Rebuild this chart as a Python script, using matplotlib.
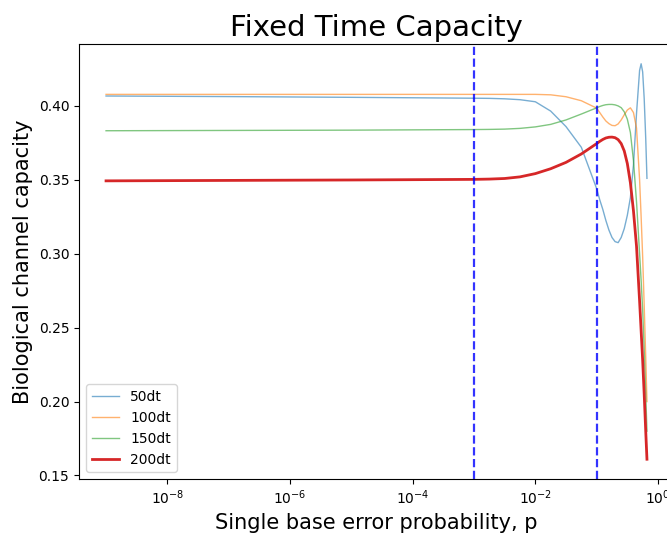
import numpy as np
import matplotlib
matplotlib.use("Agg")
import matplotlib.pyplot as plt
from matplotlib.ticker import FixedLocator, NullLocator, LogFormatterSciNotation

# log10 of the single base error probability
log_p = [-9, -7, -5, -4, -3, -2.75, -2.5, -2.25, -2.0, -1.75, -1.5, -1.25,
         -1.0, -0.95, -0.9, -0.85, -0.8, -0.75, -0.7, -0.65, -0.6, -0.55,
         -0.5, -0.45, -0.4, -0.35, -0.3, -0.275, -0.25, -0.225, -0.2, -0.18]

cap_50 = [0.4067, 0.4063, 0.4058, 0.4055, 0.4052, 0.4051, 0.4048, 0.4042,
          0.4028, 0.3965, 0.3860, 0.3720, 0.3440, 0.3365, 0.3300, 0.3225,
          0.3160, 0.3110, 0.3082, 0.3075, 0.3110, 0.3170, 0.3260, 0.3380,
          0.3600, 0.3950, 0.4240, 0.4285, 0.4230, 0.4050, 0.3780, 0.3510]

cap_100 = [0.4078, 0.4078, 0.4078, 0.4078, 0.4078, 0.4078, 0.4078, 0.4078,
           0.4078, 0.4075, 0.4062, 0.4035, 0.3985, 0.3955, 0.3925, 0.3898,
           0.3880, 0.3868, 0.3866, 0.3878, 0.3905, 0.3940, 0.3972, 0.3987,
           0.3955, 0.3850, 0.3500, 0.3250, 0.2980, 0.2650, 0.2300, 0.2000]

cap_150 = [0.3832, 0.3834, 0.3836, 0.3838, 0.3840, 0.3841, 0.3843, 0.3848,
           0.3858, 0.3875, 0.3905, 0.3945, 0.3987, 0.3996, 0.4003, 0.4008,
           0.4010, 0.4010, 0.4007, 0.4000, 0.3988, 0.3960, 0.3910, 0.3820,
           0.3630, 0.3350, 0.3000, 0.2820, 0.2620, 0.2350, 0.2050, 0.1800]

cap_200 = [0.3493, 0.3496, 0.3499, 0.3501, 0.3503, 0.3505, 0.3509, 0.3520,
           0.3542, 0.3575, 0.3618, 0.3675, 0.3745, 0.3760, 0.3773, 0.3783,
           0.3788, 0.3789, 0.3785, 0.3772, 0.3745, 0.3695, 0.3610, 0.3480,
           0.3290, 0.3050, 0.2680, 0.2480, 0.2280, 0.2050, 0.1800, 0.1610]

series_labels = ["50dt", "100dt", "150dt", "200dt"]
threshold_p = [1e-3, 1e-1]

p = 10.0 ** np.array(log_p)

fig = plt.figure(figsize=(6.67, 5.35), dpi=100)
ax = fig.add_axes([79 / 667, 56 / 535, 595 / 667, 435 / 535])

ax.plot(p, cap_50, color="tab:blue", lw=1, alpha=0.6, label=series_labels[0])
ax.plot(p, cap_100, color="tab:orange", lw=1, alpha=0.6, label=series_labels[1])
ax.plot(p, cap_150, color="tab:green", lw=1, alpha=0.6, label=series_labels[2])
ax.plot(p, cap_200, color="tab:red", lw=2, label=series_labels[3])

for xv in threshold_p:
    ax.axvline(xv, color="blue", ls="--", lw=1.6, alpha=0.8)

ax.set_xscale("log")
ax.xaxis.set_major_locator(FixedLocator([1e-8, 1e-6, 1e-4, 1e-2, 1e0]))
ax.xaxis.set_major_formatter(LogFormatterSciNotation())
ax.xaxis.set_minor_locator(NullLocator())
ax.set_yticks([0.15, 0.20, 0.25, 0.30, 0.35, 0.40])

ax.set_title("Fixed Time Capacity", fontsize=21)
ax.set_xlabel("Single base error probability, p", fontsize=15)
ax.set_ylabel("Biological channel capacity", fontsize=15)
ax.legend(loc="lower left")

fig.savefig("out.png", dpi=100)
